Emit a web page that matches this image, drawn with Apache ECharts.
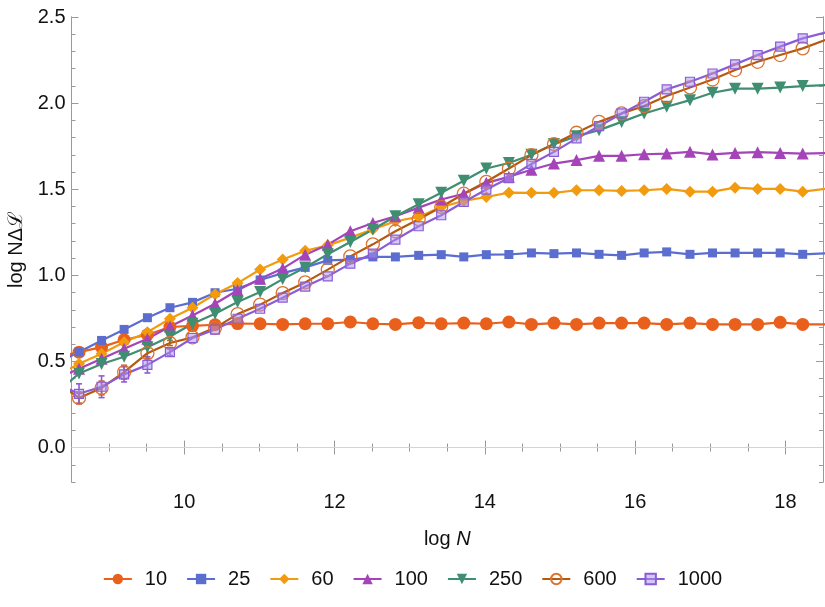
<!DOCTYPE html>
<html>
<head>
<meta charset="utf-8">
<script src="https://cdn.jsdelivr.net/npm/echarts@6/dist/echarts.min.js"></script>
<style>
html, body { margin: 0; padding: 0; background: #fff; }
#main { width: 825px; height: 607px; }
</style>
</head>
<body>
<div id="main"></div>
<script>
var myChart = echarts.init(document.getElementById('main'));

// log N positions of the points (first and last lie outside the plot range and get clipped)
var logN = [8.30, 8.60, 8.90, 9.20, 9.51, 9.81, 10.11, 10.41, 10.71, 11.01, 11.31, 11.61, 11.91,
    12.21, 12.51, 12.81, 13.12, 13.42, 13.72, 14.02, 14.32, 14.62, 14.92, 15.22, 15.52,
    15.82, 16.12, 16.42, 16.73, 17.03, 17.33, 17.63, 17.93, 18.23, 18.53];

var names = ['10', '25', '60', '100', '250', '600', '1000'];

var s10 = [0.525, 0.554, 0.583, 0.626, 0.655, 0.700, 0.707, 0.713, 0.720, 0.719, 0.715, 0.719, 0.719,
    0.729, 0.719, 0.715, 0.725, 0.719, 0.723, 0.719, 0.729, 0.715, 0.723, 0.715, 0.723,
    0.723, 0.723, 0.715, 0.723, 0.715, 0.715, 0.715, 0.727, 0.715, 0.715];
var s25 = [0.490, 0.555, 0.622, 0.686, 0.754, 0.812, 0.843, 0.899, 0.922, 0.973, 1.013, 1.046, 1.087,
    1.091, 1.107, 1.107, 1.116, 1.120, 1.107, 1.120, 1.121, 1.130, 1.126, 1.130, 1.122,
    1.116, 1.130, 1.136, 1.122, 1.130, 1.130, 1.130, 1.130, 1.122, 1.128];
var s60 = [0.417, 0.486, 0.545, 0.612, 0.670, 0.748, 0.812, 0.890, 0.955, 1.034, 1.092, 1.143, 1.174,
    1.219, 1.267, 1.314, 1.339, 1.397, 1.432, 1.455, 1.480, 1.479, 1.479, 1.494, 1.494,
    1.490, 1.494, 1.502, 1.486, 1.486, 1.509, 1.502, 1.502, 1.486, 1.502];
var s100 = [0.400, 0.457, 0.516, 0.574, 0.632, 0.703, 0.767, 0.835, 0.913, 0.980, 1.039, 1.120, 1.178,
    1.256, 1.304, 1.343, 1.393, 1.440, 1.474, 1.537, 1.572, 1.613, 1.649, 1.669, 1.694,
    1.694, 1.703, 1.707, 1.717, 1.702, 1.711, 1.715, 1.711, 1.707, 1.710];
var s250 = [0.318, 0.430, 0.485, 0.527, 0.582, 0.645, 0.719, 0.777, 0.845, 0.903, 0.978, 1.046, 1.122,
    1.194, 1.266, 1.343, 1.413, 1.479, 1.549, 1.620, 1.652, 1.700, 1.762, 1.808, 1.843,
    1.891, 1.940, 1.979, 2.017, 2.060, 2.084, 2.084, 2.090, 2.099, 2.105];
var s600 = [0.380, 0.288, 0.346, 0.438, 0.548, 0.607, 0.640, 0.695, 0.775, 0.830, 0.897, 0.959, 1.033,
    1.110, 1.180, 1.256, 1.326, 1.397, 1.474, 1.543, 1.620, 1.698, 1.762, 1.828, 1.891,
    1.940, 1.983, 2.041, 2.091, 2.137, 2.192, 2.240, 2.279, 2.318, 2.366];
var s1000 = [0.370, 0.312, 0.353, 0.425, 0.480, 0.554, 0.636, 0.685, 0.748, 0.806, 0.870, 0.935, 0.994,
    1.068, 1.126, 1.207, 1.285, 1.349, 1.426, 1.498, 1.565, 1.647, 1.717, 1.795, 1.866,
    1.940, 2.008, 2.080, 2.124, 2.172, 2.225, 2.279, 2.328, 2.376, 2.409];

// error bars on the first few points (half widths)
var err600 = [0.030, 0.040, 0.040, 0.030, 0.015];
var err1000 = [0.058, 0.063, 0.044, 0.047, 0.020];

var xTicks = [10, 12, 14, 16, 18];
var yTicks = [0, 0.5, 1, 1.5, 2, 2.5];

var colors = ['#E8601C', '#5B6ECF', '#F29B0F', '#A444B8', '#3F8E71', '#B35A10', '#8A5CD6'];
var symbols = ['circle', 'rect', 'diamond', 'triangle', 'triangle', 'circle', 'rect'];
var sizes = [13, 9, 12, 12, 12, 13, 9];
var allValues = [s10, s25, s60, s100, s250, s600, s1000];

function pairs(vals) {
    return vals.map(function (v, i) { return [logN[i], v]; });
}

var series = names.map(function (n, i) {
    var s = {
        name: n,
        type: 'line',
        data: pairs(allValues[i]),
        symbol: symbols[i],
        symbolSize: sizes[i],
        clip: true,
        lineStyle: { color: colors[i], width: 2.2 },
        itemStyle: { color: colors[i] }
    };
    if (n === '250') s.symbolRotate = 180;
    if (n === '600') s.itemStyle = { color: 'rgba(255,255,255,0)', borderColor: '#DC7330', borderWidth: 1.3 };
    if (n === '1000') s.itemStyle = { color: 'rgba(170,145,240,0.5)', borderColor: '#8A5CD6', borderWidth: 1.2 };
    if (n === '10') {
        s.markLine = {
            silent: true, symbol: 'none', label: { show: false },
            lineStyle: { color: '#d4d4d4', width: 1, type: 'solid' },
            data: [{ yAxis: 0 }]
        };
    }
    return s;
});

function errSeries(vals, errs, color) {
    var d = errs.map(function (e, i) {
        return [logN[i + 1], vals[i + 1] - e, vals[i + 1] + e];
    });
    return {
        type: 'custom',
        name: 'err',
        data: d,
        encode: { x: 0, y: [1, 2] },
        renderItem: function (params, api) {
            var lo = api.coord([api.value(0), api.value(1)]);
            var hi = api.coord([api.value(0), api.value(2)]);
            var st = { stroke: color, lineWidth: 1.6 };
            return {
                type: 'group',
                children: [
                    { type: 'line', shape: { x1: lo[0], y1: lo[1], x2: hi[0], y2: hi[1] }, style: st },
                    { type: 'line', shape: { x1: lo[0] - 3, y1: lo[1], x2: lo[0] + 3, y2: lo[1] }, style: st },
                    { type: 'line', shape: { x1: hi[0] - 3, y1: hi[1], x2: hi[0] + 3, y2: hi[1] }, style: st }
                ]
            };
        }
    };
}
series.push(errSeries(s600, err600, '#C8651C'));
series.push(errSeries(s1000, err1000, '#8A5CD6'));

var axisGray = '#9a9a9a';
var font = 'Liberation Sans, Arial, sans-serif';

function isOn(v, list) {
    for (var i = 0; i < list.length; i++) if (Math.abs(v - list[i]) < 1e-6) return true;
    return false;
}

// plain frame axis carrying only tick marks
function tickAxis(kind, pos, len, custom) {
    var a = {
        type: 'value', position: pos,
        axisLine: { show: true, lineStyle: { color: axisGray } },
        axisTick: { show: true, inside: true, length: len, lineStyle: { color: axisGray } },
        axisLabel: { show: false }, splitLine: { show: false }
    };
    if (kind === 'x') { a.min = 8.5; a.max = 18.5; a.interval = 0.5; }
    else { a.min = -0.2; a.max = 2.5; a.interval = 0.1; }
    if (custom) a.axisTick.customValues = custom;
    return a;
}

option = {
    animation: false,
    backgroundColor: '#fff',
    grid: { left: 71.5, right: 2, top: 17, bottom: 125, containLabel: false, outerBoundsMode: 'none' },
    legend: {
        data: names,
        bottom: 13,
        left: 'center',
        itemWidth: 28,
        itemHeight: 13,
        itemGap: 19,
        textStyle: { fontSize: 20, color: '#111', fontFamily: font, padding: [0, 0, 0, 8] }
    },
    xAxis: [
        {
            type: 'value', min: 8.5, max: 18.5, interval: 0.5,
            name: '{n|log }{i|N}', nameLocation: 'middle', nameGap: 47,
            nameTextStyle: {
                rich: {
                    n: { fontSize: 20, fontFamily: font, color: '#111' },
                    i: { fontSize: 20, fontFamily: font, fontStyle: 'italic', color: '#111' }
                }
            },
            axisLine: { lineStyle: { color: axisGray } },
            axisTick: { inside: true, length: 4, lineStyle: { color: axisGray } },
            splitLine: { show: false },
            axisLabel: {
                fontSize: 20, fontFamily: font, color: '#111', margin: 10,
                formatter: function (v) { return isOn(v, xTicks) ? String(Math.round(v)) : ''; }
            }
        },
        tickAxis('x', 'top', 4),
        tickAxis('x', 'bottom', 7, xTicks),
        tickAxis('x', 'top', 7, xTicks)
    ],
    yAxis: [
        {
            type: 'value', min: -0.2, max: 2.5, interval: 0.1,
            name: 'log NΔℒ', nameLocation: 'middle', nameGap: 45,
            nameTextStyle: { fontSize: 20, fontFamily: font, color: '#111' },
            axisLine: { show: true, lineStyle: { color: axisGray } },
            axisTick: { show: true, inside: true, length: 4, lineStyle: { color: axisGray } },
            splitLine: { show: false },
            axisLabel: {
                fontSize: 20, fontFamily: font, color: '#111', margin: 6,
                formatter: function (v) { return isOn(v, yTicks) ? v.toFixed(1) : ''; }
            }
        },
        tickAxis('y', 'right', 4),
        tickAxis('y', 'left', 7, yTicks),
        tickAxis('y', 'right', 7, yTicks)
    ],
    series: series
};

myChart.setOption(option);
</script>
</body>
</html>
